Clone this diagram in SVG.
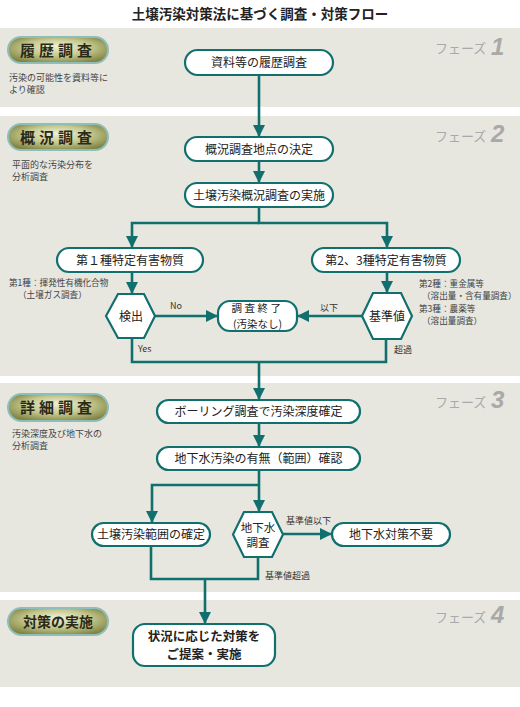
<svg xmlns="http://www.w3.org/2000/svg" width="520" height="707" viewBox="0 0 520 707">
<defs>
<radialGradient id="pillg" cx="0.5" cy="0.45" r="0.6" fx="0.5" fy="0.35">
<stop offset="0" stop-color="#eef2d6"/>
<stop offset="0.55" stop-color="#c4c78c"/>
<stop offset="1" stop-color="#7f8442"/>
</radialGradient>
<marker id="ah" viewBox="0 0 12 12" refX="11" refY="6" markerWidth="12" markerHeight="12" markerUnits="userSpaceOnUse" orient="auto">
<path d="M0,0 L12,6 L0,12 Z" fill="#11706d"/>
</marker>
</defs>
<style>
.band{fill:#e7e7e0}
.pill{fill:url(#pillg);stroke:#8fbdb9;stroke-width:2}
.pt{font-family:"Noto Sans CJK JP","Noto Sans",sans-serif;font-weight:bold;fill:#2a2a1a}
.desc{font-family:"Noto Sans CJK JP",sans-serif;font-size:9px;fill:#444}
.ph{font-family:"Noto Sans CJK JP",sans-serif;font-size:13px;fill:#a9a9a9}
.pn{font-family:"Liberation Sans",Arial,sans-serif;font-size:24px;font-weight:bold;font-style:italic;fill:#a9a9a9}
.box{fill:#fff;stroke:#11706d;stroke-width:2.2}
.nt{font-family:"Noto Sans CJK JP",sans-serif;font-size:12px;fill:#222;text-anchor:middle}
.nt2{font-family:"Noto Sans CJK JP",sans-serif;font-size:11.5px;fill:#222;text-anchor:middle}
.nt3{font-family:"Noto Sans CJK JP",sans-serif;font-size:10.5px;fill:#222;text-anchor:middle}
.bt{font-family:"Noto Sans CJK JP",sans-serif;font-size:12.5px;font-weight:bold;fill:#222;text-anchor:middle}
.ln{fill:none;stroke:#11706d;stroke-width:2.6}
.lb{font-family:"Noto Sans CJK JP","Liberation Sans",sans-serif;font-size:9px;fill:#333}
.note{font-family:"Noto Sans CJK JP",sans-serif;font-size:8.6px;fill:#444}
</style>
<rect width="520" height="707" fill="#fff"/>
<text x="260" y="19" text-anchor="middle" font-family="Noto Sans CJK JP,sans-serif" font-size="13.5" font-weight="bold" fill="#222">土壌汚染対策法に基づく調査・対策フロー</text>

<g id="bands">
<rect class="band" x="0" y="28" width="520" height="79"/>
<rect class="band" x="0" y="116" width="520" height="260"/>
<rect class="band" x="0" y="383" width="520" height="209"/>
<rect class="band" x="0" y="600" width="520" height="87"/>
</g>

<g id="phase1">
<rect class="pill" x="8" y="37" width="100" height="26" rx="13"/>
<text class="pt" x="58" y="55.5" text-anchor="middle" font-size="15" letter-spacing="4">履歴調査</text>
<text class="desc" x="9" y="81">汚染の可能性を資料等に</text>
<text class="desc" x="9" y="93">より確認</text>
<text class="ph" x="435" y="53">フェーズ</text>
<text class="pn" x="491" y="55">1</text>
</g>
<g id="phase2">
<rect class="pill" x="8" y="124" width="100" height="26" rx="13"/>
<text class="pt" x="58" y="142.5" text-anchor="middle" font-size="15" letter-spacing="4">概況調査</text>
<text class="desc" x="12" y="168">平面的な汚染分布を</text>
<text class="desc" x="12" y="180">分析調査</text>
<text class="ph" x="435" y="141">フェーズ</text>
<text class="pn" x="491" y="142">2</text>
</g>
<g id="phase3">
<rect class="pill" x="8" y="394" width="100" height="27" rx="13.5"/>
<text class="pt" x="58" y="413" text-anchor="middle" font-size="15" letter-spacing="4">詳細調査</text>
<text class="desc" x="12" y="437">汚染深度及び地下水の</text>
<text class="desc" x="12" y="449">分析調査</text>
<text class="ph" x="435" y="407">フェーズ</text>
<text class="pn" x="491" y="408">3</text>
</g>
<g id="phase4">
<rect class="pill" x="8" y="608" width="100" height="27" rx="13.5"/>
<text class="pt" x="58" y="626.5" text-anchor="middle" font-size="14">対策の実施</text>
<text class="ph" x="435" y="622">フェーズ</text>
<text class="pn" x="491" y="623">4</text>
</g>

<g id="connectors">
<path class="ln" d="M259,75 V136" marker-end="url(#ah)"/>
<path class="ln" d="M259,161 V182" marker-end="url(#ah)"/>
<path class="ln" d="M259,207 V223 H387 V247" marker-end="url(#ah)"/>
<path class="ln" d="M259,223 H132 V247" marker-end="url(#ah)"/>
<path class="ln" d="M132,272 V293" marker-end="url(#ah)"/>
<path class="ln" d="M387,272 V292" marker-end="url(#ah)"/>
<path class="ln" d="M155,316 H217" marker-end="url(#ah)"/>
<path class="ln" d="M362,316 H298" marker-end="url(#ah)"/>
<path class="ln" d="M132,338 V362 H386 V339"/>
<path class="ln" d="M259,362 V399" marker-end="url(#ah)"/>
<path class="ln" d="M259,423 V446" marker-end="url(#ah)"/>
<path class="ln" d="M259,470 V511" marker-end="url(#ah)"/>
<path class="ln" d="M259,485 H152 V522" marker-end="url(#ah)"/>
<path class="ln" d="M283,534 H331" marker-end="url(#ah)"/>
<path class="ln" d="M151,546 V579 H258 V557"/>
<path class="ln" d="M205,579 V623" marker-end="url(#ah)"/>
</g>

<g id="labels">
<text class="lb" x="170" y="309">No</text>
<text class="lb" x="138" y="352">Yes</text>
<text class="lb" x="320" y="311">以下</text>
<text class="lb" x="394" y="353">超過</text>
<text class="lb" x="286" y="524">基準値以下</text>
<text class="lb" x="265" y="579">基準値超過</text>
<text class="note" x="9" y="286">第1種：揮発性有機化合物</text>
<text class="note" x="18" y="298">（土壌ガス調査）</text>
<text class="note" x="419" y="287">第2種：重金属等</text>
<text class="note" x="422" y="299">（溶出量・含有量調査）</text>
<text class="note" x="419" y="312">第3種：農薬等</text>
<text class="note" x="422" y="324">（溶出量調査）</text>
</g>

<g id="n1"><rect class="box" x="185" y="50" width="148" height="25" rx="12.5"/><text class="nt" x="259" y="67">資料等の履歴調査</text></g>
<g id="n2"><rect class="box" x="185" y="137" width="148" height="24" rx="12"/><text class="nt" x="259" y="153.5">概況調査地点の決定</text></g>
<g id="n3"><rect class="box" x="185" y="183" width="148" height="24" rx="12"/><text class="nt" x="259" y="199.5">土壌汚染概況調査の実施</text></g>
<g id="n4"><rect class="box" x="57" y="248" width="146" height="24" rx="12"/><text class="nt" x="130" y="264.5">第１種特定有害物質</text></g>
<g id="n5"><rect class="box" x="312" y="248" width="148" height="24" rx="12"/><text class="nt" x="386" y="264.5">第2、3種特定有害物質</text></g>
<g id="n6"><polygon class="box" points="106,316 118,294 144,294 155,316 144,338 118,338"/><text class="nt" x="131" y="320.5">検出</text></g>
<g id="n7"><rect class="box" x="218" y="301" width="79" height="30" rx="12"/><text class="nt3" x="257.5" y="312" letter-spacing="2.5">調査終了</text><text class="nt3" x="257.5" y="327.5">(汚染なし)</text></g>
<g id="n8"><polygon class="box" points="362,316 373,293 401,293 412,316 401,339 373,339"/><text class="nt" x="387" y="320.5">基準値</text></g>
<g id="n9"><rect class="box" x="157" y="400" width="203" height="23" rx="11.5"/><text class="nt" x="258.5" y="416">ボーリング調査で汚染深度確定</text></g>
<g id="n10"><rect class="box" x="157" y="447" width="203" height="23" rx="11.5"/><text class="nt" x="258.5" y="463">地下水汚染の有無（範囲）確認</text></g>
<g id="n11"><rect class="box" x="92" y="523" width="118" height="23" rx="11.5"/><text class="nt" x="151" y="539">土壌汚染範囲の確定</text></g>
<g id="n12"><polygon class="box" points="233,534.5 244,512 272,512 283,534.5 272,557 244,557"/><text class="nt2" x="258" y="531.5">地下水</text><text class="nt2" x="258" y="547">調査</text></g>
<g id="n13"><rect class="box" x="332" y="523" width="118" height="23" rx="11.5"/><text class="nt" x="391" y="539">地下水対策不要</text></g>
<g id="n14"><rect class="box" x="133" y="624" width="142" height="42" rx="12"/><text class="bt" x="204" y="640.5">状況に応じた対策を</text><text class="bt" x="204" y="658.5">ご提案・実施</text></g>
</svg>
